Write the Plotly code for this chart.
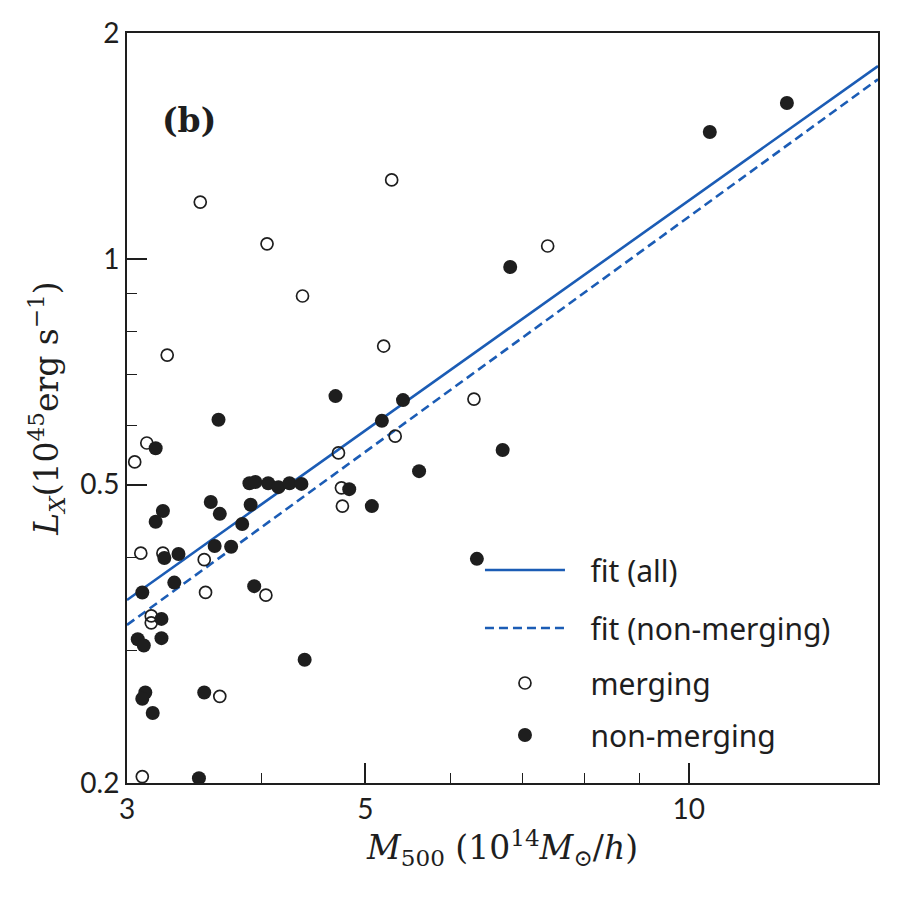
import plotly.graph_objects as go

# ---- data ----
merging_m500 = [3.51, 4.05, 5.29, 4.37, 7.39, 3.27, 5.20, 3.13, 3.05, 6.31, 5.33, 4.72,
                4.75, 4.76, 3.09, 3.24, 3.54, 3.16, 3.16, 3.55, 4.04, 3.66, 3.10]
merging_lx = [1.19, 1.047, 1.274, 0.892, 1.04, 0.744, 0.765, 0.568, 0.536, 0.650, 0.580, 0.551,
              0.495, 0.468, 0.405, 0.405, 0.397, 0.334, 0.327, 0.359, 0.356, 0.261, 0.204]

nonmerging_m500 = [3.65, 3.19, 3.24, 3.19, 3.59, 3.66, 3.90, 3.95, 4.06, 4.15, 4.25, 4.36,
                   3.91, 3.84, 3.62, 3.75, 3.25, 3.35, 3.32, 3.10, 3.94, 3.23, 3.07, 3.11,
                   3.23, 4.39, 3.12, 3.10, 3.17, 3.54, 3.50, 4.69, 5.42, 5.18, 5.61, 4.83,
                   5.07, 6.35, 6.71, 6.82, 10.46, 12.34]
nonmerging_lx = [0.610, 0.559, 0.461, 0.446, 0.474, 0.457, 0.502, 0.504, 0.502, 0.496, 0.502, 0.501,
                 0.470, 0.443, 0.414, 0.413, 0.399, 0.404, 0.370, 0.359, 0.366, 0.331, 0.311, 0.305,
                 0.312, 0.292, 0.264, 0.259, 0.248, 0.264, 0.203, 0.656, 0.648, 0.608, 0.521, 0.493,
                 0.468, 0.398, 0.556, 0.975, 1.476, 1.613]

fit_m500 = [3.0, 15.0]
fit_all_lx = [0.3508, 1.807]
fit_nonmerging_lx = [0.3249, 1.735]

x_tickvals = [3, 5, 10]
x_ticktext = ["3", "5", "10"]
x_minor = [4, 6, 7, 8, 9]
y_tickvals = [0.2, 0.5, 1, 2]
y_ticktext = ["0.2", "0.5", "1", "2"]
y_minor = [0.3, 0.4, 0.6, 0.7, 0.8, 0.9]

legend_labels = ["fit (all)", "fit (non-merging)", "merging", "non-merging"]

BLUE = "#1b5cb5"
INK = "#1e1e1e"
SANS = "Lato, DejaVu Sans, sans-serif"
LEGSANS = "Noto Sans, DejaVu Sans, sans-serif"
SERIF = "DejaVu Serif, Liberation Serif, serif"
PAD = "\u00a0\u00a0\u2009"

fig = go.Figure()
fig.add_trace(go.Scatter(x=fit_m500, y=fit_all_lx, mode="lines", name=PAD + legend_labels[0],
                         line=dict(color=BLUE, width=2.6), legend="legend"))
fig.add_trace(go.Scatter(x=fit_m500, y=fit_nonmerging_lx, mode="lines", name=PAD + legend_labels[1],
                         line=dict(color=BLUE, width=2.6, dash="9px,5px"), legend="legend2"))
fig.add_trace(go.Scatter(x=merging_m500, y=merging_lx, mode="markers", name=PAD + legend_labels[2],
                         marker=dict(symbol="circle-open", size=12, color=INK, line=dict(width=1.7, color=INK)),
                         legend="legend3"))
fig.add_trace(go.Scatter(x=nonmerging_m500, y=nonmerging_lx, mode="markers", name=PAD + legend_labels[3],
                         marker=dict(symbol="circle", size=14, color=INK, line=dict(width=0)),
                         legend="legend4"))

leg_common = dict(x=0.47, xanchor="left", yanchor="middle", bgcolor="rgba(0,0,0,0)",
                  font=dict(family=LEGSANS, size=30, color=INK), itemwidth=80)
rows = [570, 628, 683, 735]
def ypaper(py):
    return (783 - py) / 750.0

fig.update_layout(
    width=900, height=900,
    margin=dict(l=127, r=22, t=33, b=117),
    paper_bgcolor="white", plot_bgcolor="white",
    showlegend=True,
    legend=dict(y=ypaper(rows[0]), **leg_common),
    legend2=dict(y=ypaper(rows[1]), **leg_common),
    legend3=dict(y=ypaper(rows[2]), **leg_common),
    legend4=dict(y=ypaper(rows[3]), **leg_common),
    xaxis=dict(type="log", range=[0.47712, 1.17609],
               tickmode="array", tickvals=x_tickvals, ticktext=x_ticktext,
               ticks="inside", ticklen=20, tickwidth=1.5, tickcolor=INK,
               minor=dict(tickmode="array", tickvals=x_minor, ticks="inside", ticklen=10,
                          tickwidth=1.2, tickcolor=INK, showgrid=False),
               showline=True, linecolor=INK, linewidth=2, mirror=True,
               showgrid=False, zeroline=False,
               tickfont=dict(family=SANS, size=28, color=INK),
               title=dict(text="<i>M</i><sub>500</sub> (10<sup>14</sup><i>M</i><sub>⊙</sub>/<i>h</i>)",
                          font=dict(family=SERIF, size=33, color=INK), standoff=8)),
    yaxis=dict(type="log", range=[-0.69897, 0.30103],
               tickmode="array", tickvals=y_tickvals, ticktext=y_ticktext,
               ticks="inside", ticklen=20, tickwidth=1.5, tickcolor=INK,
               minor=dict(tickmode="array", tickvals=y_minor, ticks="inside", ticklen=10,
                          tickwidth=1.2, tickcolor=INK, showgrid=False),
               showline=True, linecolor=INK, linewidth=2, mirror=True,
               showgrid=False, zeroline=False,
               tickfont=dict(family=SANS, size=28, color=INK),
               title=dict(text="<i>L</i><sub><i>X</i></sub>(10<sup>45</sup>erg s<sup>−1</sup>)",
                          font=dict(family=SERIF, size=33, color=INK), standoff=12)),
    annotations=[dict(text="<b>(b)</b>", xref="paper", yref="paper", x=0.044, y=0.884,
                      xanchor="left", yanchor="middle", showarrow=False,
                      font=dict(family=SERIF, size=33, color=INK))],
)

fig.write_html("out.html")
